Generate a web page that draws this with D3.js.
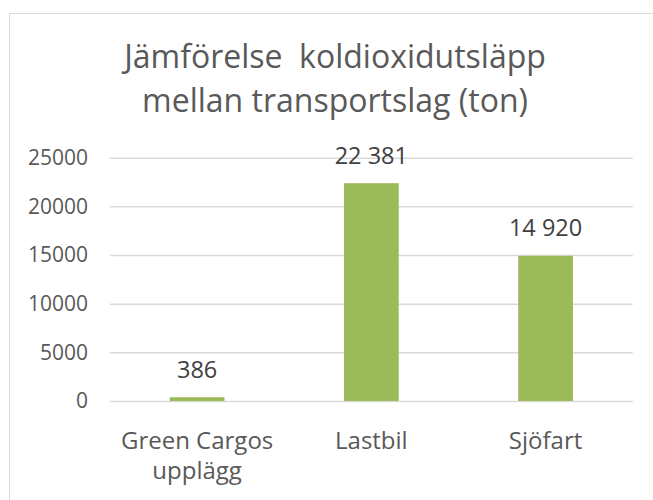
<!DOCTYPE html>
<html>
<head>
<meta charset="utf-8">
<script src="https://cdn.jsdelivr.net/npm/d3@7"></script>
<style>
  body { margin: 0; background: #fff; }
  svg { display: block; font-family: "Open Sans", sans-serif; }
</style>
</head>
<body>
<div id="chart"></div>
<script>
// data
var categories = [["Green Cargos", "upplägg"], ["Lastbil"], ["Sjöfart"]];
var values = [386, 22381, 14920];
var yTicks = [0, 5000, 10000, 15000, 20000, 25000];
var titleLines = ["Jämförelse  koldioxidutsläpp", "mellan transportslag (ton)"];

var width = 653, height = 500;
var margin = { top: 157.7, right: 20.3, bottom: 99, left: 110 };

var svg = d3.select("#chart").append("svg")
    .attr("width", width)
    .attr("height", height);

// chart border
svg.append("rect")
    .attr("x", 9.5).attr("y", 13.5)
    .attr("width", 700).attr("height", 600)
    .attr("fill", "#fff")
    .attr("stroke", "#d9d9d9")
    .attr("stroke-width", 1);

// title
svg.append("text")
    .attr("x", 335)
    .attr("y", 68)
    .attr("text-anchor", "middle")
    .attr("fill", "#595959")
    .style("font-size", "32px")
    .style("white-space", "pre")
    .selectAll("tspan")
    .data(titleLines)
    .enter().append("tspan")
    .attr("x", 335)
    .attr("dy", function (d, i) { return i === 0 ? 0 : 44; })
    .text(function (d) { return d; });

var x = d3.scaleBand()
    .domain(d3.range(categories.length))
    .range([margin.left, width - margin.right])
    .paddingInner(0.686)
    .paddingOuter(0.343);

var y = d3.scaleLinear()
    .domain([0, 25000])
    .range([height - margin.bottom, margin.top]);

var locale = d3.formatLocale({ decimal: ",", thousands: " ", grouping: [3], currency: ["", " kr"] });
var fmt = locale.format(",d");

// gridlines + y labels
var yAxis = svg.append("g")
    .attr("transform", "translate(" + margin.left + ",0)")
    .call(d3.axisLeft(y)
        .tickValues(yTicks)
        .tickSize(-(width - margin.left - margin.right))
        .tickPadding(22)
        .tickFormat(d3.format("d")));
yAxis.select(".domain").remove();
yAxis.selectAll(".tick line")
    .attr("stroke", "#d9d9d9")
    .attr("stroke-width", 1.5);
yAxis.selectAll(".tick text")
    .attr("fill", "#595959")
    .style("font-size", "21px")
    .style("font-family", "Open Sans, sans-serif");

// bars
svg.append("g").selectAll("rect")
    .data(values)
    .enter().append("rect")
    .attr("x", function (d, i) { return x(i); })
    .attr("y", function (d) { return y(d); })
    .attr("width", x.bandwidth())
    .attr("height", function (d) { return y(0) - y(d); })
    .attr("fill", "#9bbb59");

// data labels
svg.append("g").selectAll("text")
    .data(values)
    .enter().append("text")
    .attr("x", function (d, i) { return x(i) + x.bandwidth() / 2; })
    .attr("y", function (d) { return y(d) - 19.5; })
    .attr("text-anchor", "middle")
    .attr("fill", "#404040")
    .style("font-size", "23.5px")
    .style("white-space", "pre")
    .text(function (d) { return fmt(d); });

// category labels
var cat = svg.append("g").selectAll("text")
    .data(categories)
    .enter().append("text")
    .attr("y", 449)
    .attr("text-anchor", "middle")
    .attr("fill", "#595959")
    .style("font-size", "24px");
cat.selectAll("tspan")
    .data(function (d, i) { return d.map(function (t) { return { t: t, i: i }; }); })
    .enter().append("tspan")
    .attr("x", function (d) { return x(d.i) + x.bandwidth() / 2; })
    .attr("dy", function (d, j) { return j === 0 ? 0 : 30; })
    .text(function (d) { return d.t; });
</script>
</body>
</html>
